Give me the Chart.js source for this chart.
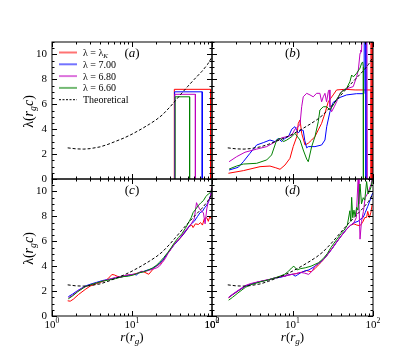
<!DOCTYPE html>
<html>
<head>
<meta charset="utf-8">
<script src="https://cdn.jsdelivr.net/npm/chart.js@4.4.1/dist/chart.umd.min.js"></script>
<style>
  body { margin: 0; background: #fff; }
  #wrap { position: relative; width: 415px; height: 356px; }
  canvas { position: absolute; left: 0; top: 0; }
</style>
</head>
<body>
<div id="wrap">
  <canvas id="pa" width="415" height="356"></canvas>
  <canvas id="pb" width="415" height="356"></canvas>
  <canvas id="pc" width="415" height="356"></canvas>
  <canvas id="pd" width="415" height="356"></canvas>
</div>
<script>
// theoretical curve (same in every panel)
const theoR = [1.57, 2, 2.5, 3, 4, 5, 6, 8, 10, 13, 16.5, 20, 24, 30, 35, 42, 50, 60, 75, 88, 100];
const theoL = [2.50, 2.42, 2.40, 2.44, 2.58, 2.78, 2.98, 3.3, 3.6, 4.0, 4.4, 4.75, 5.15, 5.8, 6.3, 6.9, 7.45, 8.0, 8.65, 9.2, 9.8];

// panel (a)
const aRedR = [33.8, 33.8, 96, 96];
const aRedL = [0, 7.2, 7.2, 0];
const aBlueR = [34.1, 34.1, 75.5, 75.5];
const aBlueL = [0, 7.0, 7.0, 0];
const aMagR = [34.3, 34.3, 62, 62];
const aMagL = [0, 6.8, 6.8, 0];
const aGreenR = [34.6, 34.6, 52.5, 52.5];
const aGreenL = [0, 6.6, 6.6, 0];

// panel (b)
const bRedR = [1.6, 2.45, 3.95, 5.25, 6.2, 7.0, 8.06, 9.3, 10.2, 11.3, 11.8, 12.4, 13.0, 14.3, 15.7, 17.3, 19.0, 20.9, 23.0, 25.3, 27.8, 32.0, 35.3, 45, 60, 80, 94.5, 94.5, 95.2, 98.5, 98.8];
const bRedL = [0.46, 0.67, 0.99, 1.04, 0.9, 0.78, 1.12, 1.66, 2.6, 3.4, 4.47, 4.74, 3.67, 2.73, 2.87, 3.13, 3.4, 3.94, 4.47, 5.27, 6.2, 6.75, 7.15, 7.2, 7.15, 7.15, 7.15, 12, 0, 0, 12];
const bMagR = [1.63, 2.02, 2.57, 3.59, 4.78, 6.36, 7.3, 8.5, 9.8, 10.7, 11.8, 12.4, 13.0, 13.6, 15.0, 16.5, 18.1, 19.9, 21.9, 23.0, 24.1, 25.3, 26.5, 27.8, 28.5, 29.2, 30.6, 33, 35.3, 38.9, 42.8, 50, 56.8, 62.6, 65.7, 69, 70.5, 72, 73.5, 84, 85];
const bMagL = [1.39, 1.79, 2.15, 2.4, 2.6, 3.05, 3.3, 3.4, 3.5, 4.0, 4.2, 4.4, 5.8, 6.6, 6.88, 6.75, 6.6, 6.88, 6.88, 6.2, 6.6, 6.88, 6.2, 7.0, 7.15, 5.8, 5.4, 5.8, 6.2, 6.88, 7.15, 7.3, 7.42, 8.2, 8.75, 10.1, 10.36, 10.2, 12, 12, 0];
const bBlueR = [1.63, 2.12, 2.45, 2.96, 3.59, 4.34, 5.25, 6.06, 6.66, 7.33, 8.06, 8.9, 9.8, 10.7, 11.3, 11.8, 12.8, 13.6, 14.2, 15.0, 15.7, 19.0, 23.0, 25.3, 26.6, 29.2, 32, 38.9, 47, 62.6, 77.3, 78, 81.5, 81.8];
const bBlueL = [0.72, 0.94, 1.39, 2.06, 2.73, 2.92, 3.13, 3.0, 3.27, 3.0, 3.27, 3.4, 4.0, 4.2, 3.9, 3.7, 3.95, 3.9, 3.1, 2.5, 2.6, 2.6, 2.73, 3.13, 4.2, 5.4, 6.15, 6.55, 6.75, 6.85, 6.85, 12, 12, 0];
const bGreenR = [1.63, 2.02, 2.45, 3.59, 4.78, 5.5, 6.06, 6.36, 7.0, 7.7, 8.5, 9.8, 10.7, 12.4, 13.6, 15.0, 15.7, 17.3, 19.0, 20.9, 21.9, 24.1, 26.6, 29.2, 32, 37, 40.6, 47, 51.7, 54.3, 57, 62.6, 69, 72.3, 74.5, 75.8, 76];
const bGreenL = [0.8, 1.04, 1.2, 1.26, 1.53, 1.93, 2.73, 3.13, 3.27, 3.0, 3.13, 3.4, 3.67, 3.13, 2.33, 1.6, 1.39, 2.6, 3.4, 4.6, 5.54, 5.8, 5.8, 5.54, 5.94, 6.6, 7.0, 7.28, 7.82, 8.35, 8.2, 8.49, 8.9, 9.3, 9.4, 9.0, 0];

// panel (c)
const cRedR = [1.57, 1.69, 1.85, 2.15, 2.6, 3.0, 3.6, 4.2, 4.8, 5.3, 5.6, 6.0, 6.5, 7.2, 8.0, 9.0, 10, 11, 12, 13.3, 14.5, 16.2, 18, 20, 22, 24, 27, 30, 33, 37, 42, 47, 52, 56, 58, 62, 67.6, 72, 76, 80, 86, 90, 94, 98];
const cRedL = [1.22, 1.19, 1.35, 1.73, 2.13, 2.4, 2.6, 2.75, 2.9, 3.15, 3.33, 3.3, 3.2, 3.1, 3.2, 3.3, 3.3, 3.4, 3.45, 3.6, 3.5, 3.35, 3.7, 4.0, 4.15, 4.4, 4.9, 5.3, 5.7, 6.0, 6.4, 6.8, 7.2, 7.3, 7.1, 7.4, 7.35, 7.5, 7.3, 7.8, 7.9, 7.6, 8.0, 7.8];
const cMagR = [1.6, 1.8, 2.1, 2.5, 3.0, 3.6, 4.3, 5.2, 6.2, 7.5, 9, 10.5, 12, 13.5, 15, 17, 19, 20.4, 22, 24, 26, 28, 31, 35, 40, 45, 50, 55, 60, 64, 66, 70, 74, 78, 82, 86, 90, 95, 99];
const cMagL = [1.45, 1.65, 2.0, 2.3, 2.5, 2.65, 2.8, 2.95, 3.1, 3.2, 3.3, 3.35, 3.45, 3.55, 3.6, 3.7, 3.8, 3.87, 4.0, 4.3, 4.6, 5.0, 5.4, 5.9, 6.3, 6.75, 7.1, 7.4, 7.8, 9.1, 8.9, 8.6, 8.4, 8.3, 7.4, 8.6, 9.2, 9.5, 10.3];
const cBlueR = [1.6, 1.8, 2.1, 2.6, 3.0, 3.6, 4.3, 5.2, 6.2, 7.5, 9, 10.3, 11.4, 12.3, 13.5, 15, 17, 19, 21, 24, 27, 30, 34, 38, 43, 48, 54, 60, 66, 71, 76, 81, 86, 91, 96, 100];
const cBlueL = [1.55, 1.75, 2.05, 2.4, 2.55, 2.7, 2.85, 2.95, 3.05, 3.15, 3.25, 3.35, 3.3, 3.5, 3.55, 3.65, 3.75, 3.9, 4.1, 4.45, 4.9, 5.3, 5.75, 6.1, 6.5, 6.9, 7.35, 7.6, 8.0, 8.3, 8.4, 8.7, 8.9, 9.2, 9.7, 10.2];
const cGreenR = [1.6, 1.8, 2.1, 2.6, 3.0, 3.6, 4.3, 5.2, 6.2, 7.5, 9, 10.5, 12, 14, 16, 18, 20, 22, 25, 28, 31, 34, 38, 42, 46, 50, 55, 58, 63, 68, 73, 78, 84, 90, 95, 100];
const cGreenL = [1.38, 1.6, 1.95, 2.35, 2.5, 2.65, 2.8, 2.9, 3.0, 3.15, 3.2, 3.3, 3.45, 3.55, 3.7, 3.85, 4.05, 4.3, 4.7, 5.1, 5.5, 5.9, 6.3, 6.6, 7.0, 7.4, 7.9, 8.3, 8.6, 8.9, 9.1, 9.26, 9.6, 9.8, 9.9, 10.2];

// panel (d)
const dRedR = [1.61, 1.8, 2.1, 2.6, 3.0, 3.6, 4.2, 5.0, 6.0, 7.0, 8.0, 9.0, 10, 11, 12, 13.5, 15, 17, 19, 21, 23, 26, 30, 35, 40, 47, 53, 58, 63, 69, 74, 79, 83.3, 86, 90, 94, 98];
const dRedL = [1.46, 1.7, 2.0, 2.4, 2.55, 2.7, 2.8, 2.9, 3.05, 3.15, 3.2, 3.3, 3.35, 3.4, 3.45, 3.55, 3.65, 3.55, 3.8, 4.1, 4.35, 4.75, 5.3, 5.9, 6.4, 6.98, 7.3, 7.4, 7.3, 7.25, 7.5, 7.9, 7.92, 8.4, 7.9, 8.3, 9.0];
const dBlueR = [1.61, 1.8, 2.1, 2.6, 3.0, 3.6, 4.2, 5.0, 6.0, 7.0, 8.0, 9.0, 10, 10.8, 11.5, 12.5, 14, 16, 18, 21, 24, 27, 31, 35, 40, 47, 53, 59, 65, 71, 75.6, 80, 86, 92, 96.5, 100];
const dBlueL = [1.5, 1.72, 2.02, 2.4, 2.55, 2.7, 2.8, 2.9, 3.05, 3.1, 3.2, 3.3, 3.35, 3.2, 3.3, 3.45, 3.6, 3.7, 3.9, 4.2, 4.5, 4.9, 5.4, 5.9, 6.4, 6.98, 7.3, 7.5, 7.6, 7.8, 7.92, 8.3, 8.8, 9.3, 9.7, 9.9];
const dMagR = [1.61, 1.8, 2.1, 2.6, 3.0, 3.6, 4.2, 5.0, 6.0, 7.0, 8.0, 9.0, 10, 11, 12.5, 14, 15.9, 17.5, 19, 21, 24, 27, 31, 35, 40, 47, 53, 58, 62, 65.7, 67, 69, 72, 76, 80, 85, 90, 95, 100];
const dMagL = [1.5, 1.75, 2.05, 2.45, 2.6, 2.72, 2.82, 2.92, 3.05, 3.15, 3.2, 3.3, 3.35, 3.4, 3.5, 3.45, 3.34, 3.6, 4.0, 4.25, 4.5, 4.9, 5.4, 5.9, 6.4, 6.95, 7.3, 7.5, 7.9, 11.5, 9.0, 6.17, 7.6, 8.4, 9.5, 9.8, 10.2, 10.6, 11.5];
const dGreenR = [1.61, 1.8, 2.1, 2.6, 3.0, 3.6, 4.2, 5.0, 6.0, 7.0, 8.0, 8.95, 9.7, 10.4, 11.4, 12.5, 14.4, 17, 21.1, 24, 27, 30, 35, 40, 45, 48, 51.6, 53, 54.3, 56, 58, 60, 62.6, 65, 69, 72, 75.6, 79, 83.3, 87, 91, 95, 100];
const dGreenL = [1.27, 1.5, 1.85, 2.3, 2.5, 2.65, 2.78, 2.9, 3.05, 3.2, 3.35, 3.6, 3.85, 4.0, 3.7, 3.8, 3.87, 4.0, 4.28, 4.6, 5.0, 5.5, 6.1, 6.6, 7.0, 7.3, 8.45, 7.6, 9.53, 7.9, 8.5, 8.0, 8.72, 8.5, 10.6, 9.0, 9.5, 9.3, 10.8, 9.8, 10.06, 10.4, 11.2];

const xTicks = [1, 10, 100];
const xTickExp = ["0", "1", "2"];
const yTicks = [0, 2, 4, 6, 8, 10];
const legendLabels = ["7.00", "6.80", "6.60"];

const SERIF = '"Liberation Serif", "Times New Roman", serif';
const RED = "#ff0000", BLUE = "#0000ff", MAG = "#bf00bf", GREEN = "#008000";

function pts(r, l) {
  return r.map((x, i) => ({ x: x, y: l[i] }));
}

function sets(red, blue, mag, green) {
  // first dataset ends up on top in Chart.js
  return [
    { data: pts(theoR, theoL), borderColor: "#000", borderDash: [3, 2] },
    { data: green, borderColor: GREEN },
    { data: mag, borderColor: MAG },
    { data: blue, borderColor: BLUE },
    { data: red, borderColor: RED },
  ];
}

function drawRich(ctx, x, y, parts, size, align) {
  const pieces = parts.map((p) => {
    const s = p.sub || p.sup ? size * 0.7 : size;
    const font = `${p.it ? "italic " : ""}${s}px ${SERIF}`;
    ctx.font = font;
    return { t: p.t, font: font, w: ctx.measureText(p.t).width, dy: p.sub ? size * 0.22 : p.sup ? -size * 0.42 : 0 };
  });
  const total = pieces.reduce((s, p) => s + p.w, 0);
  let cx = align === "center" ? x - total / 2 : align === "right" ? x - total : x;
  ctx.textAlign = "left";
  ctx.textBaseline = "alphabetic";
  pieces.forEach((p) => {
    ctx.font = p.font;
    ctx.fillText(p.t, cx, y + p.dy);
    cx += p.w;
  });
}

function decorate(chart, deco) {
  const ctx = chart.ctx;
  const a = chart.chartArea;
  const xs = chart.scales.x;
  const ys = chart.scales.y;
  ctx.save();
  ctx.strokeStyle = "#000";
  ctx.fillStyle = "#000";
  ctx.lineWidth = 1;
  ctx.strokeRect(a.left, a.top, a.right - a.left, a.bottom - a.top);

  ctx.beginPath();
  for (let d = 1; d <= 100; d *= 10) {
    for (let k = 1; k <= 9; k++) {
      const v = d * k;
      if (v > 100) break;
      const px = Math.round(xs.getPixelForValue(v)) + 0.5;
      const len = k === 1 ? 5 : 2.5;
      ctx.moveTo(px, a.bottom);
      ctx.lineTo(px, a.bottom - len);
      ctx.moveTo(px, a.top);
      ctx.lineTo(px, a.top + len);
    }
  }
  for (let v = 0; v <= 11; v += 0.5) {
    const py = Math.round(ys.getPixelForValue(v)) + 0.5;
    const len = v % 2 === 0 ? 5 : 2.5;
    ctx.moveTo(a.left, py);
    ctx.lineTo(a.left + len, py);
    ctx.moveTo(a.right, py);
    ctx.lineTo(a.right - len, py);
  }
  ctx.stroke();

  if (deco.yLabels) {
    ctx.font = `11px ${SERIF}`;
    ctx.textAlign = "right";
    ctx.textBaseline = "middle";
    yTicks.forEach((v) => ctx.fillText(String(v), a.left - 5, ys.getPixelForValue(v)));
    ctx.save();
    ctx.translate(28, (a.top + a.bottom) / 2 + 1);
    ctx.rotate(-Math.PI / 2);
    drawRich(ctx, 0, 4.5, [
      { t: "λ" }, { t: "(" }, { t: "r", it: true }, { t: "g", it: true, sub: true },
      { t: "c", it: true }, { t: ")" },
    ], 14, "center");
    ctx.restore();
  }

  if (deco.xLabels) {
    xTicks.forEach((v, i) => {
      drawRich(ctx, xs.getPixelForValue(v), a.bottom + 12, [{ t: "10" }, { t: xTickExp[i], sup: true }], 11, "center");
    });
    drawRich(ctx, (a.left + a.right) / 2, a.bottom + 25, [
      { t: "r", it: true }, { t: "(" }, { t: "r", it: true }, { t: "g", it: true, sub: true }, { t: ")" },
    ], 13, "center");
  }

  drawRich(ctx, (a.left + a.right) / 2, a.top + 15, [{ t: "(" }, { t: deco.letter, it: true }, { t: ")" }], 13, "center");

  if (deco.legend) {
    const rows = [
      { c: RED, parts: [{ t: "λ = λ" }, { t: "K", it: true, sub: true }] },
      { c: BLUE, parts: [{ t: "λ = " + legendLabels[0] }] },
      { c: MAG, parts: [{ t: "λ = " + legendLabels[1] }] },
      { c: GREEN, parts: [{ t: "λ = " + legendLabels[2] }] },
      { c: "#000", dash: true, parts: [{ t: "Theoretical" }] },
    ];
    rows.forEach((row, i) => {
      const y = 52.5 + i * 11.8;
      ctx.save();
      ctx.strokeStyle = row.c;
      if (row.dash) {
        ctx.lineWidth = 1;
        ctx.setLineDash([2, 1.5]);
      } else {
        ctx.lineWidth = 2;
        ctx.globalAlpha = 0.55;
      }
      ctx.beginPath();
      ctx.moveTo(59, y);
      ctx.lineTo(77, y);
      ctx.stroke();
      ctx.restore();
      ctx.fillStyle = "#000";
      drawRich(ctx, 83, y + 3.5, row.parts, 10, "left");
    });
  }
  ctx.restore();
}

function makePanel(id, box, datasets, deco) {
  new Chart(document.getElementById(id), {
    type: "line",
    data: { datasets: datasets },
    options: {
      responsive: false,
      animation: false,
      devicePixelRatio: 1,
      layout: { padding: { left: box[0], top: box[1], right: 415 - box[2], bottom: 356 - box[3] } },
      plugins: { legend: { display: false }, tooltip: { enabled: false } },
      elements: { point: { radius: 0 }, line: { tension: 0, borderWidth: 1, fill: false } },
      scales: {
        x: { type: "logarithmic", min: 1, max: 100, display: false },
        y: { type: "linear", min: 0, max: 11, display: false },
      },
    },
    plugins: [{ id: "deco", afterDraw: (c) => decorate(c, deco) }],
  });
}

makePanel("pa", [52, 42, 212, 179],
  sets(pts(aRedR, aRedL), pts(aBlueR, aBlueL), pts(aMagR, aMagL), pts(aGreenR, aGreenL)),
  { yLabels: true, letter: "a", legend: true });
makePanel("pb", [212, 42, 373, 179],
  sets(pts(bRedR, bRedL), pts(bBlueR, bBlueL), pts(bMagR, bMagL), pts(bGreenR, bGreenL)),
  { letter: "b" });
makePanel("pc", [52, 179, 212, 316],
  sets(pts(cRedR, cRedL), pts(cBlueR, cBlueL), pts(cMagR, cMagL), pts(cGreenR, cGreenL)),
  { yLabels: true, xLabels: true, letter: "c" });
makePanel("pd", [212, 179, 373, 316],
  sets(pts(dRedR, dRedL), pts(dBlueR, dBlueL), pts(dMagR, dMagL), pts(dGreenR, dGreenL)),
  { xLabels: true, letter: "d" });
</script>
</body>
</html>
